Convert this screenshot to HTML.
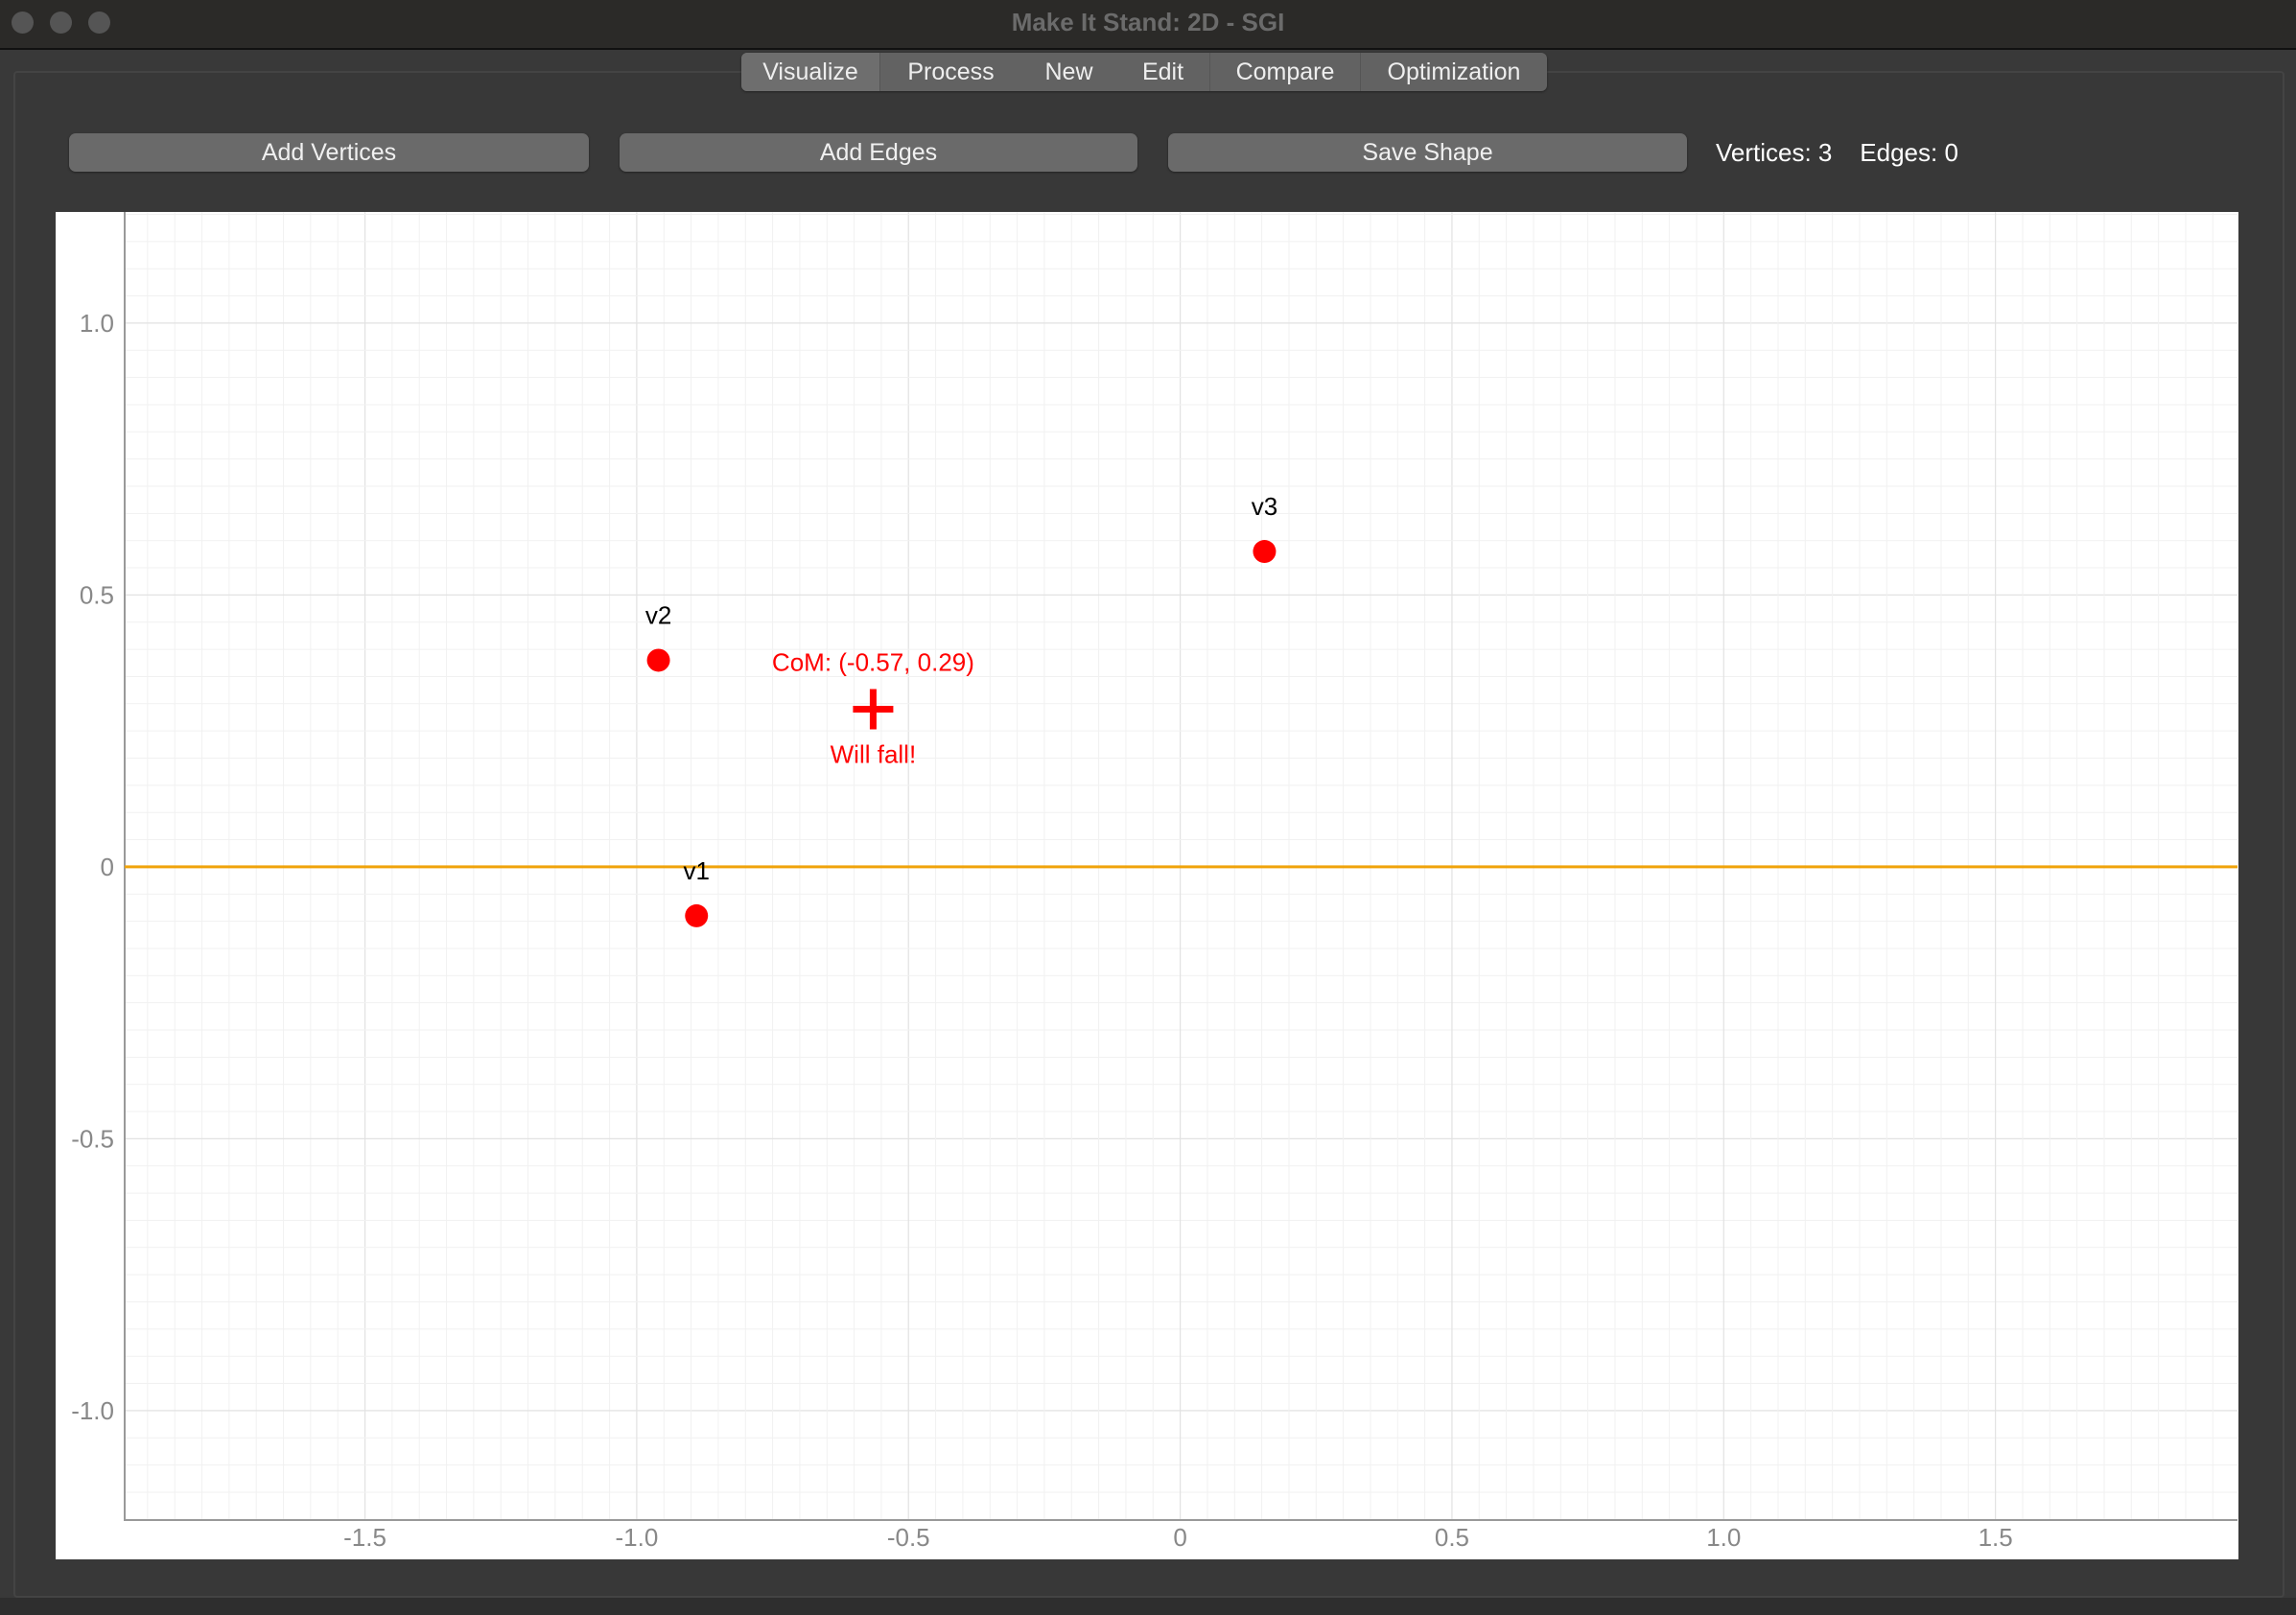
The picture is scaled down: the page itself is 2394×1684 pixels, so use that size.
<!DOCTYPE html>
<html><head><meta charset="utf-8"><style>
html,body{margin:0;padding:0;width:2394px;height:1684px;overflow:hidden;background:#393939;font-family:"Liberation Sans",sans-serif}
.abs{position:absolute}
.btn{position:absolute;top:139px;height:40px;background:#6a6a6a;border-radius:7px;color:#f0f0f0;font-size:25px;line-height:40px;text-align:center;box-shadow:0 1px 2px #222}
.tab{display:inline-block;box-sizing:border-box;height:40px;line-height:40px;color:#eee;font-size:25px;text-align:center;border-right:1px solid #555}
</style></head><body>
<div class="abs" style="left:0;top:0;width:2394px;height:50px;background:#2b2a28;border-bottom:2px solid #111">
 <div class="abs" style="left:12px;top:12px;width:23px;height:23px;border-radius:50%;background:#555"></div>
 <div class="abs" style="left:52px;top:12px;width:23px;height:23px;border-radius:50%;background:#555"></div>
 <div class="abs" style="left:92px;top:12px;width:23px;height:23px;border-radius:50%;background:#555"></div>
 <div class="abs" style="left:0;width:2394px;top:8px;text-align:center;color:#6b6b6b;font-size:26px;font-weight:bold">Make It Stand: 2D - SGI</div>
</div>
<div class="abs" style="left:14px;top:74px;width:2364px;height:1588px;border:2px solid #444;border-radius:4px;background:#383838"></div>
<div class="abs" style="left:0;top:1666px;width:2394px;height:18px;background:#2e2e2e"></div>
<div class="abs" style="left:773px;top:55px;height:40px;background:#626262;border-radius:6px;white-space:nowrap;box-shadow:0 1px 2px #222;font-size:0">
 <span class="tab" style="width:145px;background:#6e6e6e;border-radius:6px 0 0 6px">Visualize</span><span class="tab" style="width:147px;border:none">Process</span><span class="tab" style="width:99px;border:none">New</span><span class="tab" style="width:98px">Edit</span><span class="tab" style="width:157px">Compare</span><span class="tab" style="width:194px;border:none">Optimization</span>
</div>
<div class="btn" style="left:72px;width:542px">Add Vertices</div>
<div class="btn" style="left:646px;width:540px">Add Edges</div>
<div class="btn" style="left:1218px;width:541px">Save Shape</div>
<div class="abs" style="left:1789px;top:139px;line-height:40px;color:#fff;font-size:26px;white-space:pre">Vertices: 3    Edges: 0</div>

<svg class="abs" style="left:0;top:0" width="2394" height="1684">
 <rect x="58" y="221" width="2276" height="1405" fill="#fff"/>
 <g id="grid"></g>
 <g id="axes"></g>
 <g id="marks"></g>
</svg>
<script>
const vertexLabels=["v1","v2","v3"];
const vertexX=[-0.89,-0.96,0.155];
const vertexY=[-0.09,0.38,0.58];
const xTicks=[-1.5,-1.0,-0.5,0,0.5,1.0,1.5];
const xTickLabels=["-1.5","-1.0","-0.5","0","0.5","1.0","1.5"];
const yTicks=[1.0,0.5,0,-0.5,-1.0];
const yTickLabels=["1.0","0.5","0","-0.5","-1.0"];
const groundY=0;
const L=130,R=2333,T=221,B=1585;
const x0=1230.6,y0=903.9,ux=566.7,uy=567;
const sx=v=>x0+v*ux, sy=v=>y0-v*uy;
const NS="http://www.w3.org/2000/svg";
function mk(parent,tag,attrs){const e=document.createElementNS(NS,tag);for(const k in attrs)e.setAttribute(k,attrs[k]);parent.appendChild(e);return e;}
const grid=document.getElementById('grid'),axes=document.getElementById('axes'),marks=document.getElementById('marks');
for(let i=-40;i<=40;i++){const v=i*0.05;const major=i%10===0;
 const x=sx(v);if(x>L&&x<R){const l=mk(grid,'line',{x1:x,x2:x,y1:T,y2:B,stroke:major?'#e2e2e2':'#f1f1f1','stroke-width':major?1.2:1});
 
 }
 const y=sy(v);if(y>T&&y<B){const l=mk(grid,'line',{x1:L,x2:R,y1:y,y2:y,stroke:major?'#e2e2e2':'#f1f1f1','stroke-width':major?1.2:1});
 
 }}
const ax=mk(axes,'polyline',{points:`${L},${T} ${L},${B} ${R},${B}`,fill:'none',stroke:'#999','stroke-width':2});


xTicks.forEach((v,i)=>{const t=mk(axes,'text',{x:sx(v),y:1612,'text-anchor':'middle','font-size':26,fill:'#888'});t.textContent=xTickLabels[i];
 
 });
yTicks.forEach((v,i)=>{const t=mk(axes,'text',{x:119,y:sy(v)+9,'text-anchor':'end','font-size':26,fill:'#888'});t.textContent=yTickLabels[i];
 
 });
const g=mk(marks,'line',{x1:L,x2:R,y1:sy(groundY),y2:sy(groundY),stroke:'#f0a30a','stroke-width':3});


vertexX.forEach((vx,i)=>{
 const c=mk(marks,'circle',{cx:sx(vx),cy:sy(vertexY[i]),r:12,fill:'#f00'});
 
 
 const t=mk(marks,'text',{x:sx(vx),y:sy(vertexY[i])-38,'text-anchor':'middle','font-size':26,fill:'#000'});t.textContent=vertexLabels[i];
 
 });
const cx=vertexX.reduce((a,b)=>a+b,0)/vertexX.length, cy=vertexY.reduce((a,b)=>a+b,0)/vertexY.length;
const px=sx(cx),py=sy(cy);
const cr=mk(marks,'path',{d:`M${px-21},${py}H${px+21}M${px},${py-21}V${py+21}`,stroke:'#f00','stroke-width':7});


const ct=mk(marks,'text',{x:px,y:py-40,'text-anchor':'middle','font-size':26,fill:'#f00'});ct.textContent=`CoM: (${cx.toFixed(2)}, ${cy.toFixed(2)})`;


const wf=mk(marks,'text',{x:px,y:py+56,'text-anchor':'middle','font-size':26,fill:'#f00'});wf.textContent='Will fall!';


</script>
</body></html>
